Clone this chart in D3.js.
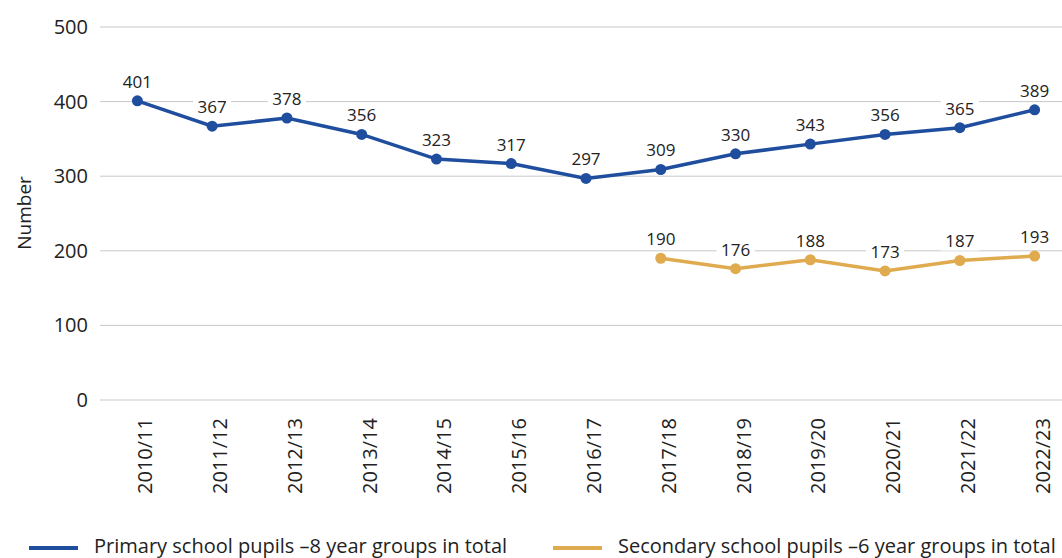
<!DOCTYPE html>
<html><head><meta charset="utf-8">
<script src="https://cdn.jsdelivr.net/npm/d3@7"></script>
<style>body{margin:0;background:#fff}svg{display:block}text{font-family:"Open Sans","Noto Sans",sans-serif}</style>
</head><body><svg id="c" width="1062" height="558"></svg>
<script>
const categories=["2010/11","2011/12","2012/13","2013/14","2014/15","2015/16","2016/17","2017/18","2018/19","2019/20","2020/21","2021/22","2022/23"];
const primary=[401,367,378,356,323,317,297,309,330,343,356,365,389];
const secondary=[null,null,null,null,null,null,null,190,176,188,173,187,193];
const yTicks=[0,100,200,300,400,500];
const seriesNames=["Primary school pupils –8 year groups in total","Secondary school pupils –6 year groups in total"];
const colors=["#1f4e9f","#e0aa4e"];

const svg=d3.select("#c");
const x=d3.scaleBand().domain(categories).range([100,1072]);
const y=d3.scaleLinear().domain([0,500]).range([400,27]);
const cx=d=>x(d)+x.bandwidth()/2;

svg.append("g").selectAll("line").data(yTicks).join("line")
 .attr("x1",100).attr("x2",1062).attr("y1",d=>y(d)).attr("y2",d=>y(d))
 .attr("stroke","#c9c9c9").attr("stroke-width",1);
svg.append("g").selectAll("text").data(yTicks).join("text")
 .attr("x",88).attr("y",d=>y(d)+7).attr("text-anchor","end")
 .attr("font-size",20).attr("fill","#222").text(d=>d);
svg.append("text").attr("transform","translate(31,213) rotate(-90)").attr("text-anchor","middle")
 .attr("font-size",19).attr("fill","#222").text("Number");
svg.append("g").selectAll("text").data(categories).join("text")
 .attr("transform",d=>`translate(${cx(d)},418) rotate(-90)`).attr("y",15).attr("text-anchor","end")
 .attr("font-size",20).attr("fill","#222").text(d=>d);

[primary,secondary].forEach((vals,i)=>{
 const pts=categories.map((c,j)=>({c,v:vals[j]})).filter(p=>p.v!=null);
 const line=d3.line().x(p=>cx(p.c)).y(p=>y(p.v));
 svg.append("path").datum(pts).attr("d",line).attr("fill","none").attr("stroke",colors[i]).attr("stroke-width",3.5);
 svg.append("g").selectAll("circle").data(pts).join("circle").attr("cx",p=>cx(p.c)).attr("cy",p=>y(p.v)).attr("r",5.5).attr("fill",colors[i]);
 const lg=svg.append("g").selectAll("g").data(pts).join("g").attr("transform",p=>`translate(${cx(p.c)},${y(p.v)})`);
 lg.append("rect").attr("x",-19).attr("y",-30).attr("width",38).attr("height",20).attr("fill","#fff");
 lg.append("text").attr("text-anchor","middle").attr("y",-13).attr("font-size",17).attr("fill","#222").text(p=>p.v);
});

const legX=[29,553];
seriesNames.forEach((n,i)=>{
 svg.append("line").attr("x1",legX[i]).attr("x2",legX[i]+49).attr("y1",548).attr("y2",548).attr("stroke",colors[i]).attr("stroke-width",4);
 svg.append("text").attr("x",legX[i]+65).attr("y",553).attr("font-size",20).attr("fill","#222").text(n);
});
</script></body></html>
